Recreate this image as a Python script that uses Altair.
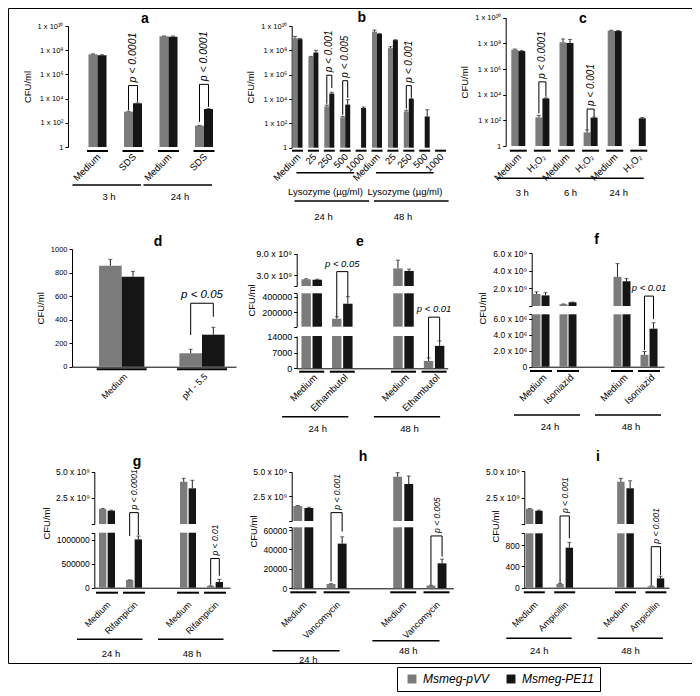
import altair as alt
import pandas as pd

M = 8            # page margin: reference page pixels -> chart pixels
W, H = 684, 655  # framed figure area
FONT = "Liberation Sans"
SERIES = ["Msmeg-pVV", "Msmeg-PE11"]
COLORS = ["#7b7b7b", "#151515"]

# ---------------- data ----------------
# a : SDS (log axis)
a_group = ["3 h", "3 h", "24 h", "24 h"]
a_treat = ["Medium", "SDS", "Medium", "SDS"]
a_pvv = [4.6e7, 830, 1.4e9, 58]
a_pvv_sd = [4e6, 70, 1.0e8, 4]
a_pe11 = [3.8e7, 4100, 1.3e9, 1380]
a_pe11_sd = [4e6, 400, 2.0e8, 100]
a_sig_at = [1, 3]
a_sig_p = ["p < 0.0001", "p < 0.0001"]
a_sig_level = [1.2e5, 1.5e5]
a_sig_left = [1.1e3, 120]
a_sig_right = [5.5e3, 2.1e3]

# b : lysozyme (log axis)
b_group = ["24 h"] * 5 + ["48 h"] * 5
b_treat = ["Medium", "25", "250", "500", "1000"] * 2
b_pvv = [1.0e9, 2.9e7, 2.5e3, 310, None, 3.4e9, 1.5e8, 950, None, None]
b_pvv_sd = [4e8, 3e6, 700, 60, None, 1.3e9, 5e7, 250, None, None]
b_pe11 = [8.3e8, 6.6e7, 2.8e4, 3.5e3, 1.8e3, 2.2e9, 6.9e8, 1.0e4, 370, None]
b_pe11_sd = [1e8, 3.4e7, 8e3, 5.4e3, 400, 2e8, 5e7, 800, 950, None]
b_sig_at = [2, 3, 7]
b_sig_p = ["p < 0.001", "p < 0.005", "p < 0.001"]
b_sig_level = [8.9e5, 3.2e5, 1.26e5]
b_sig_left = [4e3, 500, 1.6e3]
b_sig_right = [8e4, 1.26e4, 1.26e4]

# c : H2O2 (log axis)
c_group = ["3 h", "3 h", "6 h", "6 h", "24 h", "24 h"]
c_treat = ["Medium", "H₂O₂"] * 3
c_pvv = [3.2e7, 170, 1.2e8, 11.5, 9.8e8, None]
c_pvv_sd = [4.5e6, 75, 1.0e8, 6.3, 7e7, None]
c_pe11 = [2.5e7, 5.1e3, 1.07e8, 162, 9.1e8, 145]
c_pe11_sd = [2e6, 500, 9.7e7, 20, 9e7, 25]
c_sig_at = [1, 3]
c_sig_p = ["p < 0.0001", "p < 0.001"]
c_sig_level = [1.0e5, 760]
c_sig_left = [350, 18]
c_sig_right = [6.9e3, 190]

# d : acidic pH
d_group = [None, None]
d_treat = ["Medium", "pH - 5.5"]
d_pvv = [858, 114]
d_pvv_sd = [54, 34]
d_pe11 = [765, 272]
d_pe11_sd = [45, 63]
d_sig_at = [1]
d_sig_p = ["p < 0.05"]
d_sig_level = [539]
d_sig_left = [269]
d_sig_right = [425]

# e : ethambutol (broken axis)
e_group = ["24 h", "24 h", "48 h", "48 h"]
e_treat = ["Medium", "Ethambutol"] * 2
e_pvv = [1.87e9, 116000, 4.9e9, 3250]
e_pvv_sd = [1.5e8, 26000, 2.3e9, 1350]
e_pe11 = [1.75e9, 312000, 4.2e9, 10000]
e_pe11_sd = [1.5e8, 92000, 5e8, 2200]
e_sig_at = [1, 3]
e_sig_p = ["p < 0.05", "p < 0.01"]
e_sig_level = [731000, 22800]
e_sig_left = [142500, 4600]
e_sig_right = [404000, 12200]

# f : isoniazid
f_group = ["24 h", "24 h", "48 h", "48 h"]
f_treat = ["Medium", "Isoniazid"] * 2
f_pvv = [1.36e9, 2.0e8, 3.3e9, 1.49e6]
f_pvv_sd = [2.4e8, 3e7, 1.5e9, 4.1e5]
f_pe11 = [1.2e9, 4.2e8, 2.8e9, 4.76e6]
f_pe11_sd = [3e8, 3e7, 3e8, 7.4e5]
f_sig_at = [3]
f_sig_p = ["p < 0.01"]
f_sig_level = [8.84e6]
f_sig_left = [2.1e6]
f_sig_right = [5.95e6]

# g : rifampicin
g_group = ["24 h", "24 h", "48 h", "48 h"]
g_treat = ["Medium", "Rifampicin"] * 2
g_pvv = [1.43e9, 1.6e5, 4.04e9, 3.5e4]
g_pvv_sd = [5e7, 5e3, 3.3e8, 5e3]
g_pe11 = [1.27e9, 1.01e6, 3.41e9, 1.2e5]
g_pe11_sd = [5e7, 7e4, 7.7e8, 5.5e4]
g_sig_at = [1, 3]
g_sig_p = ["p < 0.0001", "p < 0.01"]
g_sig_level = [1.57e6, 6.1e5]
g_sig_left = [1.08e6, 6e4]
g_sig_right = [1.1e6, 2.5e5]

# h : vancomycin
h_group = ["24 h", "24 h", "48 h", "48 h"]
h_treat = ["Medium", "Vancomycin"] * 2
h_pvv = [1.52e9, 4400, 4.49e9, 2700]
h_pvv_sd = [5e7, 400, 4.1e8, 300]
h_pe11 = [1.32e9, 46000, 3.75e9, 25700]
h_pe11_sd = [7e7, 7000, 8.1e8, 4300]
h_sig_at = [1, 3]
h_sig_p = ["p < 0.001", "p < 0.005"]
h_sig_level = [77900, 53900]
h_sig_left = [6800, 3400]
h_sig_right = [58400, 32600]

# i : ampicillin
i_group = ["24 h", "24 h", "48 h", "48 h"]
i_treat = ["Medium", "Ampicillin"] * 2
i_pvv = [1.42e9, 70, 3.99e9, 25]
i_pvv_sd = [5e7, 8, 3.1e8, 10]
i_pe11 = [1.25e9, 750, 3.37e9, 175]
i_pe11_sd = [6e7, 100, 7.1e8, 40]
i_sig_at = [1, 3]
i_sig_p = ["p < 0.001", "p < 0.001"]
i_sig_level = [1345, 769]
i_sig_left = [88, 50]
i_sig_right = [927, 238]

# tick labels
LOGT = [(1, "1"), (1e2, "1 x 10²"), (1e4, "1 x 10⁴"), (1e6, "1 x 10⁶"),
        (1e8, "1 x 10⁸"), (1e10, "1 x 10¹⁰")]
D_T = [(0, "0"), (200, "200"), (400, "400"), (600, "600"), (800, "800"), (1000, "1000")]
E_TOP = [(0, ""), (3e9, "3.0 x 10⁹"), (9e9, "9.0 x 10⁹")]
E_MID = [(12000, ""), (2e5, "200000"), (4e5, "400000"), (448000, "")]
E_BOT = [(0, "0"), (7000, "7000"), (14000, "14000")]
F_TOP = [(0, ""), (2e9, "2.0 x 10⁹"), (4e9, "4.0 x 10⁹"), (6e9, "6.0 x 10⁹")]
F_BOT = [(0, "0"), (2e6, "2.0 x 10⁶"), (4e6, "4.0 x 10⁶"), (6e6, "6.0 x 10⁶"), (6.56e6, "")]
T5 = [(0, ""), (2.5e9, "2.5 x 10⁹"), (5e9, "5.0 x 10⁹")]
G_BOT = [(0, "0"), (5e5, "500000"), (1e6, "1000000"), (1.15e6, "")]
H_BOT = [(0, "0"), (2e4, "20000"), (4e4, "40000"), (6e4, "60000"), (62800, "")]
I_BOT = [(0, "0"), (400, "400"), (800, "800"), (1020, "")]

LEG = alt.Legend(orient="none", legendX=389, legendY=659, direction="horizontal", title=None,
                 symbolType="square", symbolSize=80, symbolStrokeWidth=0, labelFontSize=12,
                 labelFontStyle="italic", labelFont=FONT, labelColor="black", strokeColor="black",
                 padding=6, columnPadding=12, symbolOffset=3, labelOffset=5)


def seg(name, typ, lo, hi, bottom, top, ticks, title=False):
    return dict(name=name, type=typ, lo=lo, hi=hi, bottom=bottom, top=top, ticks=ticks, title=title)


def tier(y, ty, ext, dx, first=None, last=None, text=None):
    return dict(y=y, ty=ty, ext=ext, dx=dx, first=first, last=last, text=text)


def data(p):
    g = globals()
    return {k: g[f"{p}_{k}"] for k in ["group", "treat", "pvv", "pvv_sd", "pe11", "pe11_sd",
                                         "sig_at", "sig_p", "sig_level", "sig_left", "sig_right"]}


PANELS = [
    dict(letter="a", lpos=(145, 19), axis_x=68, centers=[97.5, 133, 169, 204], r1=None, bw=18,
         opad=0.0, gap=False, sig_seg=["m", "m"],
         segs=[seg("m", "log", 1, 1e10, 147, 26, LOGT, True)], titleY=None,
         tick_font=7.5, xline=False, under_y=151, under_hw=10.5, lab_y=155.5, lab_dx=1.5, lab_font=9.5,
         tiers=[tier([185, 185], [197, 197], (-25, 8), 11.5)], p_rot=True, p_font=10.5, **data("a")),
    dict(letter="b", lpos=(361.7, 18), axis_x=291.7, centers=[297.5 + 15.9 * k for k in range(10)],
         r1=None, bw=10, opad=0.0, gap=False, sig_seg=["m", "m", "m"],
         segs=[seg("m", "log", 1, 1e10, 147.7, 26, LOGT, True)], titleY=None,
         tick_font=7.5, xline=False, under_y=150.7, under_hw=5.5, lab_y=155.5, lab_dx=1.5, lab_font=9.5,
         tiers=[tier([172.7] * 2, [192.3] * 2, (-17, -7), 12, "25", "1000", "Lysozyme (µg/ml)"),
                tier([201] * 2, [216.7] * 2, (-3, 8), 26)],
         p_rot=True, p_font=10, **data("b")),
    dict(letter="c", lpos=(583, 19), axis_x=505.7, centers=[518.3 + 24.1 * k for k in range(6)],
         r1=None, bw=14, opad=0.0, gap=False, sig_seg=["m", "m"],
         segs=[seg("m", "log", 1, 1e10, 146, 17.7, LOGT, True)], titleY=None,
         tick_font=7.5, xline=False, under_y=150.7, under_hw=8.5, lab_y=155.5, lab_dx=1.5, lab_font=9.5,
         tiers=[tier([178.3] * 3, [192.7] * 3, (-21, 5), 4)], p_rot=True, p_font=10, **data("c")),
    dict(letter="d", lpos=(158, 242), axis_x=72, centers=[121.7, 202], r1=236, bw=45.3,
         opad=0.0, gap=False, sig_seg=["m"],
         segs=[seg("m", "linear", 0, 1000, 366.7, 249, D_T, True)], titleY=None,
         tick_font=7.5, xline=True, under_y=369.3, under_hw=25, lab_y=375, lab_dx=4, lab_font=9,
         tiers=[], p_rot=False, p_font=11.5, **data("d")),
    dict(letter="e", lpos=(360, 241.7), axis_x=296.7, centers=[311.7 + 30.6 * k for k in range(5)],
         r1=447.7, bw=20.5, opad=0.15, gap=True, sig_seg=["mid", "bot"],
         segs=[seg("top", "linear", 0, 9e9, 286, 253.7, E_TOP),
               seg("mid", "linear", 12000, 448000, 326.7, 293.3, E_MID, True),
               seg("bot", "linear", 0, 14400, 368.3, 336, E_BOT)], titleY=300,
         tick_font=9, xline=True, under_y=371.7, under_hw=12.5, lab_y=376, lab_dx=4, lab_font=9.5,
         tiers=[tier([416.7] * 2, [429] * 2, (-29.6, 6), 6)], p_rot=False, p_font=9.5, **data("e")),
    dict(letter="f", lpos=(596.7, 240), axis_x=531.7, centers=[541 + 27 * k for k in range(5)],
         r1=664, bw=17, opad=0.12, gap=True, sig_seg=["bot"],
         segs=[seg("top", "linear", 0, 6e9, 306, 253, F_TOP),
               seg("bot", "linear", 0, 6.56e6, 366.7, 314.3, F_BOT, True)], titleY=308,
         tick_font=8.5, xline=True, under_y=371, under_hw=11, lab_y=376, lab_dx=4, lab_font=9.5,
         tiers=[tier([415] * 2, [426.7] * 2, (-27, 12), 9)], p_rot=False, p_font=9.5, **data("f")),
    dict(letter="g", lpos=(137, 461.7), axis_x=94.3, centers=[107 + 27 * k for k in range(5)],
         r1=230, bw=16, opad=0.15, gap=True, sig_seg=["bot", "bot"],
         segs=[seg("top", "linear", 0, 5e9, 524, 471.7, T5),
               seg("bot", "linear", 0, 1.15e6, 587.7, 532.7, G_BOT, True)], titleY=523,
         tick_font=8.5, xline=True, under_y=592.7, under_hw=11, lab_y=603, lab_dx=2, lab_font=9,
         tiers=[tier([639.3] * 2, [654.3] * 2, (-30, 8.5), 4)], p_rot=True, p_font=8.5, **data("g")),
    dict(letter="h", lpos=(363, 457.3), axis_x=291.7, centers=[303.3 + 33.3 * k for k in range(5)],
         r1=453.3, bw=20, opad=0.2, gap=True, sig_seg=["bot", "bot"],
         segs=[seg("top", "linear", 0, 5e9, 521, 471.7, T5),
               seg("bot", "linear", 0, 62800, 588.3, 527.3, H_BOT, True)], titleY=531,
         tick_font=8.5, xline=True, under_y=592.3, under_hw=13, lab_y=603, lab_dx=2, lab_font=9,
         tiers=[tier([650.7, 640.7], [660, 651], (-30.8, 3), 5)], p_rot=True, p_font=8.5, **data("h")),
    dict(letter="i", lpos=(598, 456.7), axis_x=524.3, centers=[534.3 + 30.4 * k for k in range(5)],
         r1=669, bw=16.7, opad=0.2, gap=True, sig_seg=["bot", "bot"],
         segs=[seg("top", "linear", 0, 5e9, 524, 471, T5),
               seg("bot", "linear", 0, 1020, 587.7, 533.3, I_BOT, True)], titleY=526,
         tick_font=8.5, xline=True, under_y=592.3, under_hw=10.5, lab_y=603, lab_dx=2, lab_font=9,
         tiers=[tier([638.3] * 2, [651] * 2, (-28, 7), 5)], p_rot=True, p_font=8.5, **data("i")),
]


def label_expr(ticks):
    parts = []
    for v, lab in ticks:
        cond = "abs(datum.value) < 1e-9" if v == 0 else f"abs(datum.value / {float(v)!r} - 1) < 1e-6"
        parts.append(f"{cond} ? '{lab}' : ")
    return "".join(parts) + "''"


def band_scale(P, domain):
    c = P["centers"]
    n = len(c)
    s = (c[-1] - c[0]) / (n - 1)
    r0 = P["axis_x"]
    m = c[0] - r0
    r1 = P["r1"] if P["r1"] else c[-1] + m
    bw = P["bw"]
    pi = 1 - bw / s
    po = max(((r1 - r0) / s - n + pi) / 2, 0.0)
    al = 0.5 if po <= 0 else min(max((m - bw / 2) / (2 * po * s), 0.0), 1.0)
    return alt.Scale(domain=domain, range=[r0 - M, r1 - M], paddingInner=pi,
                     paddingOuter=po, align=al)


def make_panel(P):
    keys = [f"{g}|{t}" if g else t for g, t in zip(P["group"], P["treat"])]
    domain = keys[:2] + ["gap"] + keys[2:] if P["gap"] else list(keys)
    xs = band_scale(P, domain)
    xo = alt.XOffset("series:N", scale=alt.Scale(domain=SERIES, paddingInner=P["opad"], paddingOuter=0))
    color = alt.Color("series:N", scale=alt.Scale(domain=SERIES, range=COLORS), legend=LEG)

    rows = []
    for k, v1, s1, v2, s2 in zip(keys, P["pvv"], P["pvv_sd"], P["pe11"], P["pe11_sd"]):
        for ser, v, sd in ((SERIES[0], v1, s1), (SERIES[1], v2, s2)):
            if v is not None:
                rows.append({"key": k, "series": ser, "v": v, "top": v + sd})
    bars = pd.DataFrame(rows)

    brk, ptx = [], []
    for n, (ix, p, lv, le, ri, sg) in enumerate(zip(P["sig_at"], P["sig_p"], P["sig_level"],
                                                    P["sig_left"], P["sig_right"], P["sig_seg"])):
        k = keys[ix]
        brk += [dict(id=n, key=k, series=SERIES[0], y=le, o=0, seg=sg),
                dict(id=n, key=k, series=SERIES[0], y=lv, o=1, seg=sg),
                dict(id=n, key=k, series=SERIES[1], y=lv, o=2, seg=sg),
                dict(id=n, key=k, series=SERIES[1], y=ri, o=3, seg=sg)]
        ptx.append(dict(key=k, level=lv, p=p, seg=sg))
    brk = pd.DataFrame(brk)
    ptx = pd.DataFrame(ptx)

    out = []
    segs = P["segs"]
    for j, sgm in enumerate(segs):
        below = segs[j + 1]["hi"] if j + 1 < len(segs) else None
        is_bottom = j == len(segs) - 1
        ys = alt.Scale(type=sgm["type"], domain=[sgm["lo"], sgm["hi"]],
                       range=[sgm["bottom"] - M, sgm["top"] - M], nice=False)
        ax = dict(orient="left", offset=-(P["axis_x"] - M), values=[t[0] for t in sgm["ticks"]],
                  labelExpr=label_expr(sgm["ticks"]), grid=False, tickSize=3,
                  labelFontSize=P["tick_font"], labelPadding=2, labelOverlap=False,
                  labelFlush=False, domainColor="black", tickColor="black", labelColor="black")
        if sgm["title"]:
            ax.update(title="CFU/ml", titleFontSize=9.5, titleFontWeight="normal", titlePadding=5,
                      titleColor="black", titleFont=FONT)
            if P["titleY"]:
                ax["titleY"] = P["titleY"] - M
        else:
            ax["title"] = None
        yaxis = alt.Axis(**ax)
        if is_bottom and P["xline"]:
            xaxis = alt.Axis(orient="bottom", offset=(sgm["bottom"] - M) - H, labels=False,
                             ticks=False, domain=True, domainColor="black", title=None, grid=False)
        else:
            xaxis = None
        X = alt.X("key:N", scale=xs, axis=xaxis, title=None)

        def Y(f):
            return alt.Y(f, scale=ys, axis=yaxis)

        layers = []
        b = alt.Chart(bars).mark_bar()
        if below is not None:
            b = b.transform_filter(f"datum.v > {below}")
        b = b.transform_calculate(vb=f"min(datum.v, {sgm['hi']})").encode(
            x=X, xOffset=xo, y=Y("vb:Q"), y2=alt.datum(sgm["lo"]), color=color)
        layers.append(b)

        cond = f"datum.v <= {sgm['hi']}" + (f" && datum.v > {below}" if below is not None else "")
        layers.append(alt.Chart(bars).transform_filter(cond).mark_rule(color="#222", strokeWidth=1)
                      .encode(x=X, xOffset=xo, y=Y("v:Q"), y2=alt.Y2("top:Q")))
        layers.append(alt.Chart(bars).transform_filter(cond).mark_tick(color="#222", thickness=1, size=4)
                      .encode(x=X, xOffset=xo, y=Y("top:Q")))

        bk = brk[brk["seg"] == sgm["name"]]
        if len(bk):
            layers.append(alt.Chart(bk).mark_line(color="black", strokeWidth=1)
                          .encode(x=X, xOffset=xo, y=Y("y:Q"), order="o:Q", detail="id:N"))
            pk = ptx[ptx["seg"] == sgm["name"]]
            if P["p_rot"]:
                mk = dict(angle=270, align="left", baseline="middle", dx=3)
            else:
                mk = dict(align="center", baseline="bottom", dy=-3)
            layers.append(alt.Chart(pk).mark_text(fontStyle="italic", fontSize=P["p_font"], font=FONT,
                                                  color="black", **mk)
                          .encode(x=X, y=Y("level:Q"), text="p:N"))

        if is_bottom:
            cats = pd.DataFrame({"key": keys, "key2": keys, "lab": P["treat"]})
            hw = P["under_hw"]
            layers.append(alt.Chart(cats).mark_rule(color="black", strokeWidth=2, xOffset=-hw, x2Offset=hw)
                          .encode(x=X, x2=alt.X2("key2"), y=alt.value(P["under_y"] - M)))
            layers.append(alt.Chart(cats).mark_text(align="right", baseline="middle",
                                                    fontSize=P["lab_font"], font=FONT, color="black",
                                                    xOffset=P["lab_dx"])
                          .encode(x=X, y=alt.value(P["lab_y"] - M), text="lab:N",
                                  angle=alt.value(315)))
            groups = list(dict.fromkeys(P["group"]))
            for t in P["tiers"]:
                for gi, g in enumerate(groups):
                    gk = [k for k, gg in zip(keys, P["group"]) if gg == g]
                    first = f"{g}|{t['first']}" if t["first"] else gk[0]
                    last = f"{g}|{t['last']}" if t["last"] else gk[-1]
                    text = t["text"] if t["text"] else g
                    gdf = pd.DataFrame({"key": [first], "key2": [last], "txt": [text]})
                    layers.append(alt.Chart(gdf).mark_rule(color="black", strokeWidth=1.5,
                                                           xOffset=t["ext"][0], x2Offset=t["ext"][1])
                                  .encode(x=X, x2=alt.X2("key2"), y=alt.value(t["y"][gi] - M)))
                    layers.append(alt.Chart(gdf).mark_text(align="center", baseline="middle", fontSize=9.5,
                                                           font=FONT, color="black", xOffset=t["dx"])
                                  .encode(x=X, y=alt.value(t["ty"][gi] - M), text="txt:N"))
        out.append(alt.layer(*layers))
    return out


all_layers = []
for P in PANELS:
    all_layers += make_panel(P)
for P in PANELS:
    lx, ly = P["lpos"]
    all_layers.append(alt.Chart(pd.DataFrame({"t": [P["letter"]]}))
                      .mark_text(fontWeight="bold", fontSize=14, font=FONT, color="black",
                                 align="center", baseline="middle")
                      .encode(x=alt.value(lx - M), y=alt.value(ly - M), text="t:N"))

chart = (alt.layer(*all_layers)
         .resolve_scale(x="independent", y="independent", xOffset="independent")
         .resolve_axis(x="independent", y="independent")
         .properties(width=W, height=H, padding={"left": 0, "top": 0, "right": 0, "bottom": 32},
                     autosize=alt.AutoSizeParams(type="none"))
         .configure_view(stroke="black", strokeWidth=1)
         .configure_axis(labelFont=FONT, titleFont=FONT))

chart.save("out.html", embed_options={"renderer": "svg", "actions": False})
